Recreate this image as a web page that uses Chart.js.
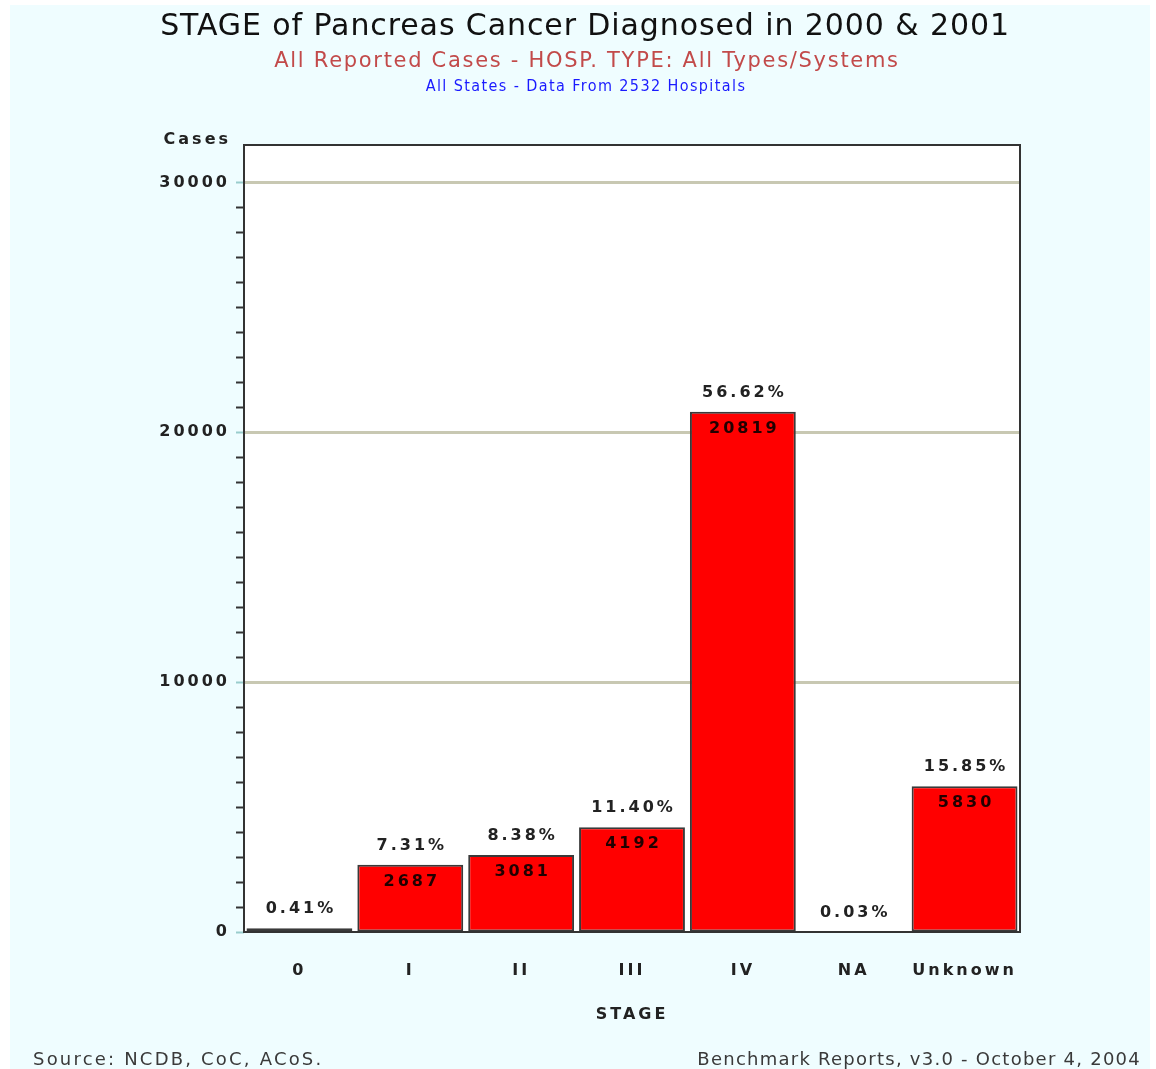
<!DOCTYPE html>
<html>
<head>
<meta charset="utf-8">
<script src="https://cdn.jsdelivr.net/npm/chart.js@4.4.1/dist/chart.umd.min.js"></script>
<style>
  html, body { margin: 0; padding: 0; background: #ffffff; }
  #wrap { position: relative; width: 1156px; height: 1069px; }
  canvas { display: block; }
</style>
</head>
<body>
<div id="wrap"><canvas id="c" width="1156" height="1069"></canvas></div>
<script>
// ---- data ----
const categories = ['0', 'I', 'II', 'III', 'IV', 'NA', 'Unknown'];
const cases = [151, 2687, 3081, 4192, 20819, 11, 5830];
const percentLabels = ['0.41%', '7.31%', '8.38%', '11.40%', '56.62%', '0.03%', '15.85%'];
const majorTicks = [0, 10000, 20000, 30000];
const minorStep = 1000;
const lastTick = 30000;
const yMax = 31500;
const titleText = 'STAGE of Pancreas Cancer Diagnosed in 2000 & 2001';
const subtitleText = 'All Reported Cases - HOSP. TYPE: All Types/Systems';
const subtitle2Text = 'All States - Data From 2532 Hospitals';
const yAxisTitle = 'Cases';
const xAxisTitle = 'STAGE';
const footerLeft = 'Source: NCDB, CoC, ACoS.';
const footerRight = 'Benchmark Reports, v3.0 - October 4, 2004';

const BG = '#effdff';
const isMajor = v => majorTicks.includes(v);

const decor = {
  id: 'decor',
  beforeDraw(chart) {
    const ctx = chart.ctx, a = chart.chartArea;
    ctx.save();
    ctx.fillStyle = '#ffffff';
    ctx.fillRect(0, 0, chart.width, chart.height);
    ctx.fillStyle = BG;
    ctx.fillRect(10, 5, 1140, 1064);
    ctx.fillStyle = '#ffffff';
    ctx.fillRect(a.left, a.top, a.right - a.left, a.bottom - a.top);
    ctx.restore();
    ctx.letterSpacing = '3px';
  },
  beforeDatasetsDraw(chart) {
    chart.ctx.letterSpacing = '0px';
  },
  afterDatasetsDraw(chart) {
    const ctx = chart.ctx, a = chart.chartArea;
    const meta = chart.getDatasetMeta(0);
    ctx.save();
    // plot frame
    ctx.strokeStyle = '#333333';
    ctx.lineWidth = 2;
    ctx.strokeRect(a.left, a.top, a.right - a.left, a.bottom - a.top);

    // data labels
    ctx.textAlign = 'center';
    ctx.textBaseline = 'middle';
    ctx.letterSpacing = '3px';
    ctx.font = 'bold 16px "DejaVu Sans"';
    meta.data.forEach((bar, i) => {
      const x = bar.x + 1.5;
      ctx.fillStyle = '#222222';
      ctx.fillText(percentLabels[i], x, bar.y - 19);
      if (cases[i] > 1000) {
        ctx.fillStyle = '#220000';
        ctx.fillText(String(cases[i]), x, bar.y + 17);
      }
    });

    // axis titles
    ctx.fillStyle = '#222222';
    ctx.textAlign = 'right';
    ctx.fillText(yAxisTitle, 231, 140);
    ctx.textAlign = 'center';
    ctx.fillText(xAxisTitle, 632, 1015);

    // titles
    ctx.letterSpacing = '0.9px';
    ctx.fillStyle = '#111111';
    ctx.font = '30px "DejaVu Sans"';
    ctx.fillText(titleText, 585, 27);
    ctx.fillStyle = '#c24a4a';
    ctx.font = '21px "DejaVu Sans"';
    ctx.letterSpacing = '1.7px';
    ctx.fillText(subtitleText, 587, 62);
    ctx.fillStyle = '#1a1aff';
    ctx.font = '16px "DejaVu Sans Condensed"';
    ctx.letterSpacing = '1.4px';
    ctx.fillText(subtitle2Text, 586, 87);

    // footers
    ctx.fillStyle = '#3a3a3a';
    ctx.font = '18px "DejaVu Sans"';
    ctx.textAlign = 'left';
    ctx.letterSpacing = '2.2px';
    ctx.fillText(footerLeft, 33, 1060);
    ctx.textAlign = 'right';
    ctx.letterSpacing = '1.25px';
    ctx.fillText(footerRight, 1141, 1060);
    ctx.restore();
  }
};

new Chart(document.getElementById('c'), {
  type: 'bar',
  data: {
    labels: categories,
    datasets: [{
      data: cases,
      backgroundColor: '#ff0000',
      borderColor: '#3a3a3a',
      borderWidth: 2,
      borderSkipped: false,
      categoryPercentage: 1.0,
      barPercentage: 0.955
    }]
  },
  options: {
    responsive: false,
    animation: false,
    devicePixelRatio: 1,
    layout: { padding: { top: 145, right: 136, left: 0, bottom: 0 } },
    plugins: { legend: { display: false }, tooltip: { enabled: false }, title: { display: false } },
    scales: {
      x: {
        grid: { display: false, drawTicks: false },
        border: { display: false },
        ticks: {
          color: '#222222',
          font: { family: 'DejaVu Sans', size: 16, weight: 'bold' },
          padding: 29,
          maxRotation: 0,
          autoSkip: false
        },
        afterFit(s) { s.height = 137; }
      },
      y: {
        min: 0,
        max: yMax,
        border: { display: false },
        grid: {
          drawTicks: true,
          tickLength: 8,
          color: ctx => (ctx.tick && isMajor(ctx.tick.value) && ctx.tick.value > 0) ? '#c8c8b2' : 'rgba(0,0,0,0)',
          lineWidth: ctx => (ctx.tick && isMajor(ctx.tick.value) && ctx.tick.value > 0) ? 3 : 1,
          tickColor: ctx => (ctx.tick && isMajor(ctx.tick.value)) ? '#99cccc' : '#333333',
          tickWidth: 2
        },
        ticks: {
          autoSkip: false,
          color: '#222222',
          font: { family: 'DejaVu Sans', size: 16, weight: 'bold' },
          padding: 6,
          callback: v => isMajor(v) ? String(v) : ''
        },
        afterBuildTicks(s) {
          const t = [];
          for (let v = 0; v <= lastTick; v += minorStep) t.push({ value: v });
          s.ticks = t;
        },
        afterFit(s) { s.width = 244; }
      }
    }
  },
  plugins: [decor]
});
</script>
</body>
</html>
